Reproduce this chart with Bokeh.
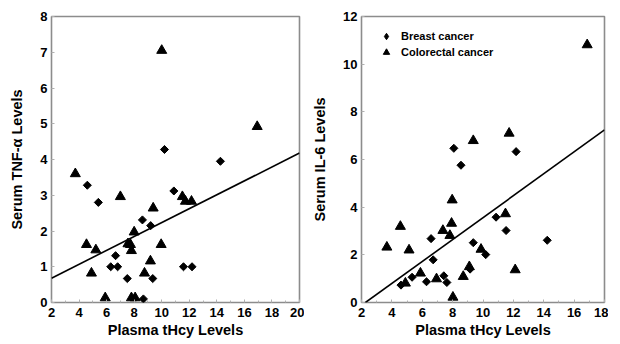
import math
from bokeh.plotting import figure
from bokeh.layouts import row
from bokeh.models import FixedTicker, Range1d, Legend, LegendItem
from bokeh.embed import file_html
from bokeh.resources import INLINE

# ---------------- data: left panel (TNF-alpha) ----------------
tnf_breast_x = [4.6, 5.4, 8.6, 9.2, 6.65, 6.3, 6.8, 7.5, 9.35, 8.67, 10.2, 14.26, 10.88, 11.58, 12.2]
tnf_breast_y = [3.28, 2.8, 2.31, 2.15, 1.31, 1.0, 1.0, 0.67, 0.67, 0.1, 4.28, 3.95, 3.12, 1.0, 1.0]
tnf_colo_x = [3.73, 7.0, 8.0, 4.54, 5.22, 7.55, 7.73, 7.8, 4.9, 8.75, 5.9, 7.8, 8.07, 9.38, 9.96,
              9.18, 10.0, 16.93, 11.5, 11.72, 12.16]
tnf_colo_y = [3.6, 2.96, 1.97, 1.62, 1.47, 1.64, 1.62, 1.45, 0.82, 0.82, 0.13, 0.13, 0.13, 2.64, 1.62,
              1.16, 7.05, 4.92, 2.96, 2.83, 2.83]
tnf_fit_x = [2, 20]
tnf_fit_y = [0.68, 4.18]

# ---------------- data: right panel (IL-6) ----------------
il6_breast_x = [8.08, 8.55, 12.18, 6.58, 6.72, 5.33, 7.42, 7.62, 6.28, 4.6, 10.86, 11.52, 14.23, 9.36, 10.18, 9.15]
il6_breast_y = [6.47, 5.76, 6.33, 2.68, 1.79, 1.06, 1.12, 0.84, 0.87, 0.73, 3.58, 3.02, 2.61, 2.51, 2.01, 1.4]
il6_colo_x = [9.36, 11.72, 16.86, 7.97, 4.56, 7.93, 7.36, 7.82, 3.67, 5.13, 5.88, 6.94, 4.89, 8.02,
              11.48, 9.87, 9.1, 8.7, 12.12]
il6_colo_y = [6.79, 7.1, 10.81, 4.3, 3.19, 3.32, 3.02, 2.81, 2.32, 2.2, 1.23, 0.99, 0.81, 0.22,
              3.72, 2.23, 1.5, 1.09, 1.37]
il6_fit_x = [2.26, 18]
il6_fit_y = [0.0, 7.24]

tnf_x_ticks = [2, 4, 6, 8, 10, 12, 14, 16, 18, 20]
tnf_y_ticks = [0, 1, 2, 3, 4, 5, 6, 7, 8]
il6_x_ticks = [2, 4, 6, 8, 10, 12, 14, 16, 18]
il6_y_ticks = [0, 2, 4, 6, 8, 10, 12]

legend_labels = ["Breast cancer", "Colorectal cancer"]

FONT = "Liberation Sans"
FRAME = "#8c8c8c"


def style(p, xticks, yticks, ylabel, ylabel_standoff):
    p.outline_line_color = FRAME
    p.outline_line_width = 1.6
    p.xgrid.visible = False
    p.ygrid.visible = False
    p.background_fill_color = "white"
    p.border_fill_color = "white"
    xminor = [t + (xticks[1] - xticks[0]) / 2 for t in xticks[:-1]]
    p.xaxis.ticker = FixedTicker(ticks=xticks, minor_ticks=xminor)
    p.yaxis.ticker = FixedTicker(ticks=yticks)
    for ax in (p.xaxis[0], p.yaxis[0]):
        ax.axis_line_color = None
        ax.major_tick_in = 3
        ax.major_tick_out = 0
        ax.minor_tick_in = 2
        ax.minor_tick_out = 0
        ax.major_tick_line_color = "#b0b0b0"
        ax.minor_tick_line_color = "#b0b0b0"
        ax.major_label_text_font = FONT
        ax.major_label_text_font_style = "bold"
        ax.major_label_text_font_size = "13px"
        ax.major_label_text_color = "black"
        ax.axis_label_text_font = FONT
        ax.axis_label_text_font_style = "bold"
        ax.axis_label_text_font_size = "14.5px"
        ax.axis_label_text_color = "black"
    p.yaxis.minor_tick_line_color = None
    p.xaxis.axis_label = "Plasma tHcy Levels"
    p.xaxis.major_label_standoff = 5
    p.xaxis.axis_label_standoff = 2
    p.yaxis.axis_label = ylabel
    p.yaxis.major_label_standoff = 4
    p.yaxis.axis_label_standoff = ylabel_standoff


# ---------------- left figure ----------------
p1 = figure(width=304, height=344, output_backend="svg", toolbar_location=None,
            x_range=Range1d(2, 20), y_range=Range1d(0, 8),
            min_border_left=51, min_border_right=5, min_border_top=16, min_border_bottom=42)
style(p1, tnf_x_ticks, tnf_y_ticks, "Serum TNF-\u03b1 Levels", 12)
p1.line(tnf_fit_x, tnf_fit_y, line_color="black", line_width=1.6)
p1.scatter(tnf_breast_x, tnf_breast_y, marker="square", angle=math.pi / 4, size=5.7,
           fill_color="black", line_color="black")
p1.scatter(tnf_colo_x, tnf_colo_y, marker="triangle", size=10,
           fill_color="black", line_color="black")

# ---------------- right figure ----------------
p2 = figure(width=304, height=344, output_backend="svg", toolbar_location=None,
            x_range=Range1d(2, 18), y_range=Range1d(0, 12),
            min_border_left=57, min_border_right=4, min_border_top=16, min_border_bottom=42)
style(p2, il6_x_ticks, il6_y_ticks, "Serum IL-6 Levels", 12)
p2.line(il6_fit_x, il6_fit_y, line_color="black", line_width=1.6)
p2.scatter(il6_breast_x, il6_breast_y, marker="square", angle=math.pi / 4, size=5.7,
           fill_color="black", line_color="black")
rc = p2.scatter(il6_colo_x, il6_colo_y, marker="triangle", size=10,
                fill_color="black", line_color="black")
# legend proxy: same data drawn as a diamond symbol, only shown in the legend
rb_leg = p2.scatter(il6_breast_x, il6_breast_y, marker="diamond", size=9,
                    fill_color="black", line_color="black", visible=False)

legend = Legend(items=[LegendItem(label=legend_labels[0], renderers=[rb_leg]),
                       LegendItem(label=legend_labels[1], renderers=[rc])],
                location="top_left")
legend.margin = 12
legend.padding = 0
legend.glyph_width = 26
legend.glyph_height = 16
legend.spacing = 0
legend.label_standoff = 2
legend.label_text_font = FONT
legend.label_text_font_style = "bold"
legend.label_text_font_size = "11px"
legend.label_text_color = "black"
legend.border_line_color = None
legend.background_fill_alpha = 0
p2.add_layout(legend)

layout = row(p1, p2)
open("out.html", "w").write(file_html(layout, INLINE))
